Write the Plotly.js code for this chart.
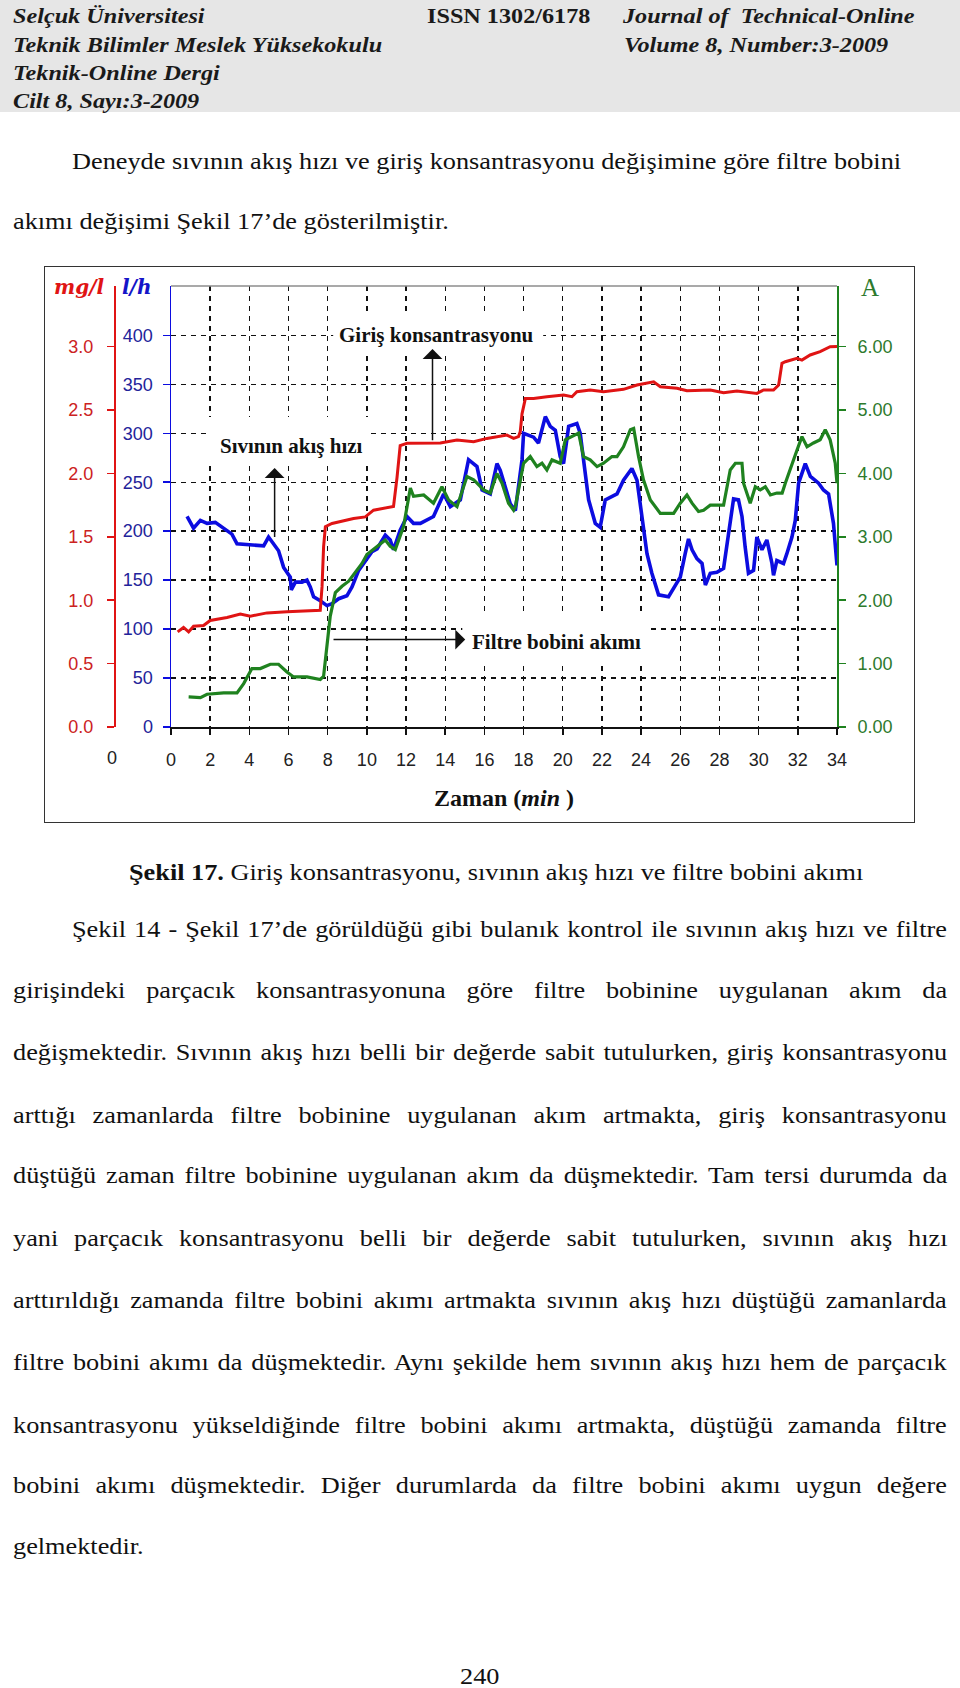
<!DOCTYPE html>
<html>
<head>
<meta charset="utf-8">
<script src="https://cdn.plot.ly/plotly-3.0.1.min.js"></script>
<style>
  html, body { margin:0; padding:0; background:#fff; }
  #page { position:relative; width:960px; height:1688px; overflow:hidden; font-family:"Liberation Serif", "Times New Roman", serif; color:#111; }
  #hdr { position:absolute; left:0; top:0; width:960px; height:112px; background:#e6e6e6; }
  .h { position:absolute; font-size:22px; line-height:28px; font-weight:bold; font-style:italic; white-space:nowrap; color:#1a1a1a; transform:scaleX(1.1); transform-origin:0 0; }
  .hn { font-style:normal; }
  .t { position:absolute; font-size:24px; line-height:30px; white-space:nowrap; color:#111; transform:scaleX(1.095); transform-origin:0 0; }
  #chartbox { position:absolute; left:44px; top:266px; width:869px; height:555px; border:1px solid #333; background:#fff; }
  #chart { width:869px; height:555px; }
</style>
</head>
<body>
<div id="page">
  <div id="hdr"></div>
  <div class="h" style="left:13px;top:2px;">Selçuk Üniversitesi</div>
  <div class="h hn" style="left:427px;top:2px;">ISSN 1302/6178</div>
  <div class="h" style="left:623px;top:2px;">Journal of&nbsp; Technical-Online</div>
  <div class="h" style="left:13px;top:31px;">Teknik Bilimler Meslek Yüksekokulu</div>
  <div class="h" style="left:624px;top:31px;">Volume 8, Number:3-2009</div>
  <div class="h" style="left:13px;top:59px;">Teknik-Online Dergi</div>
  <div class="h" style="left:13px;top:87px;">Cilt 8, Sayı:3-2009</div>

  <div class="t" style="left:72px;top:146px;"><span>Deneyde sıvının akış hızı ve giriş konsantrasyonu değişimine göre filtre bobini</span></div>
  <div class="t" style="left:13px;top:206px;"><span>akımı değişimi Şekil 17’de gösterilmiştir.</span></div>

  <div id="chartbox"><div id="chart"></div></div>

  <div class="t" style="left:129px;top:857px;"><span><b>Şekil 17.</b> Giriş konsantrasyonu, sıvının akış hızı ve filtre bobini akımı</span></div>

  <div class="t j" data-w="875" style="left:72px;top:914px;"><span>Şekil 14 - Şekil 17’de görüldüğü gibi bulanık kontrol ile sıvının akış hızı ve filtre</span></div>
  <div class="t j" data-w="934" style="left:13px;top:975px;"><span>girişindeki parçacık konsantrasyonuna göre filtre bobinine uygulanan akım da</span></div>
  <div class="t j" data-w="934" style="left:13px;top:1037px;"><span>değişmektedir. Sıvının akış hızı belli bir değerde sabit tutulurken, giriş konsantrasyonu</span></div>
  <div class="t j" data-w="934" style="left:13px;top:1100px;"><span>arttığı zamanlarda filtre bobinine uygulanan akım artmakta, giriş konsantrasyonu</span></div>
  <div class="t j" data-w="934" style="left:13px;top:1160px;"><span>düştüğü zaman filtre bobinine uygulanan akım da düşmektedir. Tam tersi durumda da</span></div>
  <div class="t j" data-w="934" style="left:13px;top:1223px;"><span>yani parçacık konsantrasyonu belli bir değerde sabit tutulurken, sıvının akış hızı</span></div>
  <div class="t j" data-w="934" style="left:13px;top:1285px;"><span>arttırıldığı zamanda filtre bobini akımı artmakta sıvının akış hızı düştüğü zamanlarda</span></div>
  <div class="t j" data-w="934" style="left:13px;top:1347px;"><span>filtre bobini akımı da düşmektedir. Aynı şekilde hem sıvının akış hızı hem de parçacık</span></div>
  <div class="t j" data-w="934" style="left:13px;top:1410px;"><span>konsantrasyonu yükseldiğinde filtre bobini akımı artmakta, düştüğü zamanda filtre</span></div>
  <div class="t j" data-w="934" style="left:13px;top:1470px;"><span>bobini akımı düşmektedir. Diğer durumlarda da filtre bobini akımı uygun değere</span></div>
  <div class="t" style="left:13px;top:1531px;"><span>gelmektedir.</span></div>

  <div class="t" style="left:460px;top:1661px;"><span>240</span></div>
</div>

<script>
// Justify single body lines to the measured line width (word spacing only).
(function(){
  const SCALE = 1.095;
  document.querySelectorAll('.t.j').forEach(function(div){
    const span = div.querySelector('span');
    const target = parseFloat(div.getAttribute('data-w')) / SCALE;
    const natural = span.offsetWidth;
    const spaces = (span.textContent.match(/ /g) || []).length;
    if (spaces > 0) span.style.wordSpacing = ((target - natural) / spaces) + 'px';
  });
})();

// ---- Data ----
// Sıvının akış hızı (l/h)
const flowTime = [0.82,1.15,1.5,1.84,2.26,2.6,3.11,3.37,4.22,4.73,4.98,5.24,5.49,5.75,6.09,6.14,6.35,6.69,6.94,7.11,7.28,7.62,7.96,8.22,8.56,8.98,9.24,9.58,9.92,10.26,10.52,10.94,11.19,11.36,11.7,12.05,12.38,12.73,13.4,13.92,14.26,14.77,15.19,15.62,15.88,16.3,16.64,16.81,17.32,17.58,17.92,18.0,18.51,18.76,19.11,19.36,19.62,19.87,20.04,20.3,20.72,20.89,21.06,21.32,21.66,21.91,22.17,22.77,23.1,23.53,23.79,24.12,24.3,24.55,24.89,25.4,25.66,26.0,26.25,26.42,26.6,26.85,27.11,27.28,27.53,27.87,28.21,28.38,28.55,28.72,28.97,29.15,29.31,29.48,29.74,29.91,30.17,30.42,30.68,30.76,30.93,31.27,31.44,31.7,31.87,32.04,32.38,32.64,33.06,33.31,33.57,33.74,33.82,34.0];
const flowRate = [215,203,211,208,209,204,197,187,186,185,194,187,180,163,153,140,148,148,150,143,133,129,124,126,131,134,143,160,170,179,182,196,191,181,201,215,208,208,215,238,225,232,273,266,242,238,269,262,228,221,273,300,296,290,317,307,303,276,269,307,310,300,273,232,208,204,232,238,252,264,252,204,177,157,135,133,141,153,177,192,181,172,167,145,157,158,162,184,211,233,232,215,184,157,160,194,181,191,167,155,170,167,177,194,211,249,269,256,249,242,238,215,208,165];

// Giriş konsantrasyonu (mg/l)
const concTime = [0.34,0.64,0.9,1.15,1.66,2.0,2.86,3.54,4.05,4.9,5.92,6.94,7.62,7.71,7.79,7.88,8.22,9.32,9.92,10.34,11.19,11.36,11.54,11.7,12.05,13.75,14.6,15.45,16.13,17.15,17.49,17.74,17.83,17.92,18.09,18.51,19.19,20.04,20.47,20.72,21.4,22.08,23.1,23.79,24.64,24.98,25.83,26.34,27.53,28.21,28.89,29.91,30.25,30.76,31.02,31.19,31.36,31.96,32.21,32.63,33.14,33.65,34.0];
const concValue = [0.75,0.785,0.75,0.795,0.80,0.84,0.863,0.89,0.874,0.90,0.908,0.916,0.921,1.105,1.42,1.58,1.605,1.645,1.657,1.71,1.736,1.74,1.97,2.22,2.237,2.24,2.263,2.25,2.276,2.302,2.276,2.29,2.33,2.47,2.59,2.59,2.605,2.618,2.605,2.644,2.657,2.644,2.663,2.697,2.723,2.684,2.671,2.652,2.658,2.636,2.65,2.631,2.658,2.658,2.697,2.868,2.881,2.908,2.894,2.934,2.96,2.999,3.0];

// Filtre bobini akımı (A)
const currTime = [0.9,1.5,1.84,2.69,3.37,3.71,4.13,4.56,5.07,5.49,5.92,6.26,6.94,7.62,7.79,7.96,8.13,8.39,8.73,9.07,9.41,9.75,10.0,10.34,10.68,10.94,11.19,11.45,11.87,12.22,12.38,12.9,13.4,13.83,14.17,14.6,15.11,15.45,15.96,16.3,16.64,16.9,17.23,17.49,17.58,18.0,18.34,18.68,18.94,19.19,19.45,19.87,20.13,20.47,20.81,21.06,21.4,21.75,22.08,22.51,22.77,23.1,23.45,23.62,23.87,24.12,24.47,24.98,25.66,26.0,26.34,26.6,26.93,27.19,27.53,28.21,28.55,28.81,29.15,29.23,29.57,29.83,30.08,30.34,30.6,30.93,31.2,31.36,31.7,31.96,32.21,32.47,32.8,33.14,33.4,33.65,33.91,34.0];
const currValue = [0.474,0.464,0.517,0.537,0.537,0.685,0.922,0.922,0.99,0.99,0.869,0.79,0.79,0.749,0.80,1.3,1.75,2.12,2.22,2.3,2.43,2.58,2.72,2.8,2.88,2.95,2.85,2.8,3.16,3.77,3.64,3.66,3.53,3.79,3.58,3.475,3.95,3.9,3.74,3.69,4.0,3.845,3.53,3.42,3.476,4.16,4.265,4.107,4.16,4.055,4.213,4.16,4.53,4.58,4.635,4.265,4.213,4.107,4.16,4.265,4.265,4.42,4.69,4.71,4.265,3.9,3.58,3.37,3.37,3.53,3.66,3.53,3.4,3.42,3.5,3.5,4.055,4.16,4.16,3.845,3.53,3.79,3.74,3.79,3.66,3.69,3.69,3.845,4.16,4.37,4.58,4.42,4.48,4.53,4.69,4.53,4.16,3.845];

// Tick values
const timeTicks = [0,2,4,6,8,10,12,14,16,18,20,22,24,26,28,30,32,34];
const flowTicks = [0,50,100,150,200,250,300,350,400];
const concTicks = [0,0.5,1.0,1.5,2.0,2.5,3.0];
const currTicks = [0,1,2,3,4,5,6];

// Labels
const labelConc = "Giriş konsantrasyonu";
const labelFlow = "Sıvının akış hızı";
const labelCurr = "Filtre bobini akımı";

const RED = '#e01414', BLUE = '#0c0ce0', GREEN = '#1f821f';
const tickFont = (c) => ({family:'Liberation Sans, Arial, sans-serif', size:18, color:c});

const traces = [
  {x: flowTime, y: flowRate, yaxis:'y', type:'scatter', mode:'lines', line:{color:BLUE, width:3.6}, name:labelFlow},
  {x: currTime, y: currValue, yaxis:'y3', type:'scatter', mode:'lines', line:{color:GREEN, width:3.2}, name:labelCurr},
  {x: concTime, y: concValue, yaxis:'y2', type:'scatter', mode:'lines', line:{color:RED, width:3}, name:labelConc}
];

const annFont = {family:'Liberation Serif, Times New Roman, serif', size:21, color:'#111', weight:'bold'};
const arrow = (hx, hy, tx, ty) => ({x:hx, y:hy, ax:tx, ay:ty, xref:'x', yref:'y', axref:'x', ayref:'y', text:'', showarrow:true, arrowhead:1, arrowsize:2.2, arrowwidth:1.5, arrowcolor:'#111', standoff:0, startstandoff:0});

const layout = {
  width:869, height:555,
  margin:{l:126, r:77, t:19, b:95, pad:0, autoexpand:false},
  paper_bgcolor:'#fff', plot_bgcolor:'#fff',
  showlegend:false,
  xaxis:{
    range:[0,34], tickvals:timeTicks, ticks:'outside', ticklen:6, tickwidth:1.5, tickcolor:'#111',
    showline:true, linecolor:'#111', linewidth:1.5, zeroline:false,
    showgrid:true, gridcolor:'#111', griddash:'5px,5px', gridwidth:1.4,
    tickfont:tickFont('#222'), ticklabelstandoff:10,
    title:{text:'<b>Zaman (<i>min</i> )</b>', font:{family:'Liberation Serif, Times New Roman, serif', size:24, color:'#111'}, standoff:20}
  },
  yaxis:{
    range:[0,450.4], tickvals:flowTicks, ticks:'outside', ticklen:7, tickwidth:1.5, tickcolor:BLUE,
    showline:true, linecolor:BLUE, linewidth:1.5, zeroline:false,
    showgrid:true, gridcolor:'#111', griddash:'5px,5px', gridwidth:1.4,
    tickfont:tickFont('#23239a'), ticklabelstandoff:6
  },
  yaxis2:{
    range:[0,3.478], tickvals:concTicks, tickformat:'.1f', overlaying:'y', anchor:'free', position:0, side:'left',
    autoshift:false, shift:-57,
    ticks:'outside', ticklen:7, tickwidth:1.5, tickcolor:RED,
    showline:true, linecolor:RED, linewidth:1.5, zeroline:false, showgrid:false,
    tickfont:tickFont('#cc2222'), ticklabelstandoff:10
  },
  yaxis3:{
    range:[0,6.956], tickvals:currTicks, tickformat:'.2f', overlaying:'y', anchor:'x', side:'right',
    ticks:'outside', ticklen:7, tickwidth:1.5, tickcolor:GREEN,
    showline:true, linecolor:GREEN, linewidth:1.8, zeroline:false, showgrid:false,
    tickfont:tickFont('#2d7a2d'), ticklabelstandoff:8
  },
  yaxis4:{
    range:[0,6.956], tickvals:currTicks, overlaying:'y', anchor:'x', side:'right',
    ticks:'inside', ticklen:7, tickwidth:1.5, tickcolor:GREEN, showticklabels:false,
    showline:false, zeroline:false, showgrid:false
  },
  shapes:[
    {type:'line', xref:'paper', yref:'paper', x0:0, x1:1, y0:1, y1:1, line:{color:'#8c8c8c', width:1.5}, layer:'above'},
    {type:'rect', xref:'x', yref:'y', x0:8.28, x1:19.0, y0:381.9, y1:420.7, fillcolor:'#fff', line:{width:0}, layer:'between'},
    {type:'rect', xref:'x', yref:'y', x0:1.85, x1:10.17, y0:269.5, y1:316.5, fillcolor:'#fff', line:{width:0}, layer:'between'},
    {type:'rect', xref:'x', yref:'y', x0:14.87, x1:24.32, y0:65.1, y1:114.2, fillcolor:'#fff', line:{width:0}, layer:'between'}
  ],
  annotations:[
    {x:13.57, y:400.3, xref:'x', yref:'y', text:labelConc, showarrow:false, font:annFont},
    {x:6.15, y:287, xref:'x', yref:'y', text:labelFlow, showarrow:false, font:annFont},
    {x:19.67, y:86.6, xref:'x', yref:'y', text:labelCurr, showarrow:false, font:annFont},
    arrow(13.35, 386, 13.35, 291.3),
    arrow(5.29, 264.4, 5.29, 192.6),
    arrow(15.02, 89.3, 8.22, 89.3),
    {x:-0.1384, y:0.998, xref:'paper', yref:'paper', xanchor:'center', yanchor:'middle', text:'<b><i>mg/l</i></b>', showarrow:false, font:{family:'DejaVu Serif, serif', size:20, color:'#e01414'}},
    {x:-0.0521, y:0.998, xref:'paper', yref:'paper', xanchor:'center', yanchor:'middle', text:'<b><i>l/h</i></b>', showarrow:false, font:{family:'DejaVu Serif, serif', size:20, color:'#1515c8'}},
    {x:1.05, y:0.996, xref:'paper', yref:'paper', xanchor:'center', yanchor:'middle', text:'A', showarrow:false, font:{family:'Liberation Serif, serif', size:25, color:'#2d7a2d'}},
    {x:-0.0886, y:-0.071, xref:'paper', yref:'paper', xanchor:'center', yanchor:'middle', text:'0', showarrow:false, font:tickFont('#222')}
  ]
};

Plotly.newPlot('chart', traces, layout, {displayModeBar:false, staticPlot:true});
</script>
</body>
</html>
